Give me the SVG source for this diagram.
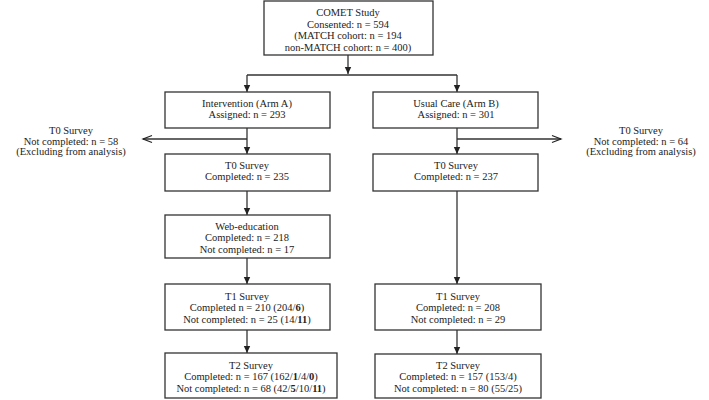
<svg xmlns="http://www.w3.org/2000/svg" width="709" height="400" viewBox="0 0 709 400">
<defs>
<marker id="fill" markerWidth="8" markerHeight="8" refX="7" refY="4" orient="auto" markerUnits="userSpaceOnUse">
<path d="M0,0.8 L7,4 L0,7.2 Z" fill="#222"/>
</marker>
<marker id="open" markerWidth="12" markerHeight="12" refX="10" refY="6" orient="auto" markerUnits="userSpaceOnUse">
<path d="M1,2.5 L10,6 L1,9.5" fill="none" stroke="#222" stroke-width="1.2"/>
</marker>
<style>
rect{fill:#fff;stroke:#333;stroke-width:1.3}
text{font-family:"Liberation Serif","Times New Roman",serif;font-size:10.5px;fill:#222;text-anchor:middle}
.b{font-weight:bold}
.c line,.c path{stroke:#333;stroke-width:1.3;fill:none}
</style>
</defs>
<rect x="0" y="0" width="709" height="400" style="fill:#fff;stroke:none"/>
<g class="c" id="connectors">
<line x1="348" y1="55" x2="348" y2="74" marker-end="url(#fill)"/>
<line x1="247" y1="75" x2="457" y2="75"/>
<line x1="247" y1="75" x2="247" y2="92" marker-end="url(#fill)"/>
<line x1="457" y1="75" x2="457" y2="92" marker-end="url(#fill)"/>
<line x1="247" y1="128" x2="247" y2="154" marker-end="url(#fill)"/>
<line x1="247" y1="139" x2="143" y2="139" marker-end="url(#open)"/>
<line x1="457" y1="128" x2="457" y2="154" marker-end="url(#fill)"/>
<line x1="457" y1="139" x2="561" y2="139" marker-end="url(#open)"/>
<line x1="247" y1="191" x2="247" y2="215" marker-end="url(#fill)"/>
<line x1="247" y1="258" x2="247" y2="284" marker-end="url(#fill)"/>
<line x1="247" y1="330" x2="247" y2="353" marker-end="url(#fill)"/>
<line x1="457" y1="191" x2="457" y2="284" marker-end="url(#fill)"/>
<line x1="457" y1="330" x2="457" y2="354" marker-end="url(#fill)"/>
</g>
<g id="comet">
<rect x="264" y="1" width="169" height="54"/>
<text x="348" y="15.5">COMET Study</text>
<text x="348" y="27.5">Consented: n = 594</text>
<text x="348" y="38.5">(MATCH cohort: n = 194</text>
<text x="348" y="50.5">non-MATCH cohort: n = 400)</text>
</g>
<g id="armA">
<rect x="165" y="92" width="165" height="36"/>
<text x="247" y="106.5">Intervention (Arm A)</text>
<text x="247" y="117.5">Assigned: n = 293</text>
</g>
<g id="armB">
<rect x="373" y="92" width="165" height="36"/>
<text x="456" y="106.5">Usual Care (Arm B)</text>
<text x="456" y="117.5">Assigned: n = 301</text>
</g>
<g id="excludeA">
<text x="71" y="133.5">T0 Survey</text>
<text x="71" y="144.5">Not completed: n = 58</text>
<text x="71" y="155">(Excluding from analysis)</text>
</g>
<g id="excludeB">
<text x="641" y="133.5">T0 Survey</text>
<text x="641" y="144.5">Not completed: n = 64</text>
<text x="641" y="155">(Excluding from analysis)</text>
</g>
<g id="t0A">
<rect x="165" y="154" width="165" height="37"/>
<text x="247" y="168.5">T0 Survey</text>
<text x="247" y="179.5">Completed: n = 235</text>
</g>
<g id="t0B">
<rect x="373" y="154" width="165" height="37"/>
<text x="456" y="168.5">T0 Survey</text>
<text x="456" y="179.5">Completed: n = 237</text>
</g>
<g id="web">
<rect x="165" y="215" width="165" height="43"/>
<text x="247" y="229.5">Web-education</text>
<text x="247" y="241">Completed: n = 218</text>
<text x="247" y="252.5">Not completed: n = 17</text>
</g>
<g id="t1A">
<rect x="165" y="284" width="165" height="46"/>
<text x="247" y="299.5">T1 Survey</text>
<text x="247" y="311">Completed n = 210 (204/<tspan class="b">6</tspan>)</text>
<text x="247" y="322.5">Not completed: n = 25 (14/<tspan class="b">11</tspan>)</text>
</g>
<g id="t2A">
<rect x="165" y="353" width="172" height="45"/>
<text x="251" y="368.5">T2 Survey</text>
<text x="251" y="380">Completed: n = 167 (162/<tspan class="b">1</tspan>/4/<tspan class="b">0</tspan>)</text>
<text x="251" y="391.5">Not completed: n = 68 (42/<tspan class="b">5</tspan>/10/<tspan class="b">11</tspan>)</text>
</g>
<g id="t1B">
<rect x="375" y="284" width="166" height="46"/>
<text x="458" y="299.5">T1 Survey</text>
<text x="458" y="311">Completed: n = 208</text>
<text x="458" y="322.5">Not completed: n = 29</text>
</g>
<g id="t2B">
<rect x="375" y="354" width="166" height="44"/>
<text x="458" y="368.5">T2 Survey</text>
<text x="458" y="380">Completed: n = 157 (153/4)</text>
<text x="458" y="391.5">Not completed: n = 80 (55/25)</text>
</g>
</svg>
